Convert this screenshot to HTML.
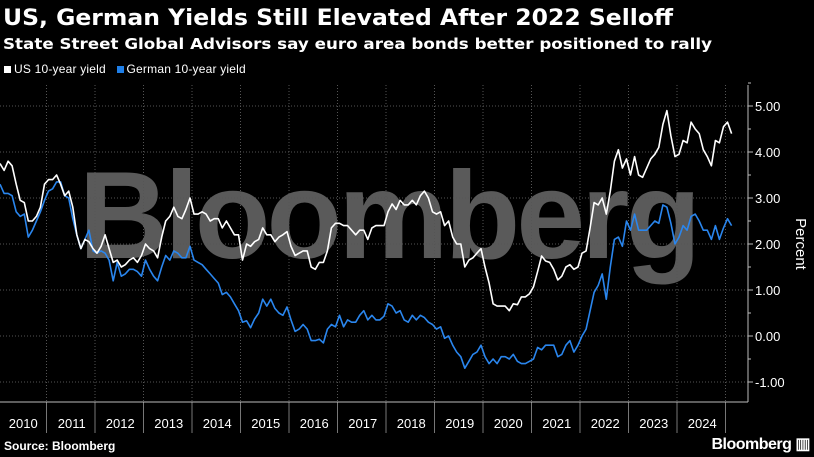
<!DOCTYPE html>
<html><head><meta charset="utf-8">
<style>
html,body{margin:0;padding:0;background:#000;width:814px;height:457px;overflow:hidden;font-family:"Liberation Sans",sans-serif;color:#fff}
#legend{position:absolute;left:4px;top:62px;font-size:12px;letter-spacing:0.2px}
.sw{display:inline-block;width:7px;height:7px;margin-right:3px}
#src{position:absolute;left:4px;top:439px;font-size:12px;font-weight:bold}
#logo{position:absolute;right:4px;top:434px;font-size:16px;font-weight:bold;letter-spacing:-0.5px}
svg{position:absolute;left:0;top:0}
</style></head><body>
<svg id="head" width="814" height="60">
<text x="3" y="25" font-size="22" font-weight="bold" fill="#fff" font-family="DejaVu Sans, sans-serif" textLength="670" lengthAdjust="spacingAndGlyphs">US, German Yields Still Elevated After 2022 Selloff</text>
<text x="3" y="49" font-size="15" font-weight="bold" fill="#fff" font-family="DejaVu Sans, sans-serif" textLength="709" lengthAdjust="spacingAndGlyphs">State Street Global Advisors say euro area bonds better positioned to rally</text>
</svg>
<div id="legend"><span><span class="sw" style="background:#fff"></span>US 10-year yield</span>&nbsp;&nbsp;&nbsp;<span><span class="sw" style="background:#1f7fe8"></span>German 10-year yield</span></div>
<svg id="chart" width="814" height="457" style="pointer-events:none"></svg>
<div id="src">Source: Bloomberg</div>
<div id="logo">Bloomberg ▥</div>
<script>
const years=["2010","2011","2012","2013","2014","2015","2016","2017","2018","2019","2020","2021","2022","2023","2024"];
const yTicks=[5,4,3,2,1,0,-1];
const usYield=[3.75,3.6,3.8,3.7,3.3,2.95,2.9,2.5,2.5,2.6,2.8,3.3,
3.4,3.4,3.5,3.3,3.05,3.15,2.8,2.2,1.9,2.1,2.05,1.9,
1.8,1.95,2.2,1.9,1.6,1.65,1.5,1.55,1.65,1.7,1.6,1.75,
2.0,1.9,1.85,1.7,2.15,2.5,2.6,2.8,2.6,2.55,2.75,3.0,
2.65,2.65,2.7,2.65,2.5,2.55,2.55,2.35,2.5,2.35,2.2,2.2,
1.65,2.0,1.95,2.05,2.1,2.35,2.2,2.2,2.05,2.15,2.2,2.27,
1.95,1.75,1.8,1.85,1.85,1.5,1.45,1.6,1.6,1.85,2.35,2.45,
2.45,2.4,2.4,2.3,2.2,2.3,2.3,2.1,2.35,2.4,2.4,2.4,
2.7,2.87,2.75,2.95,2.85,2.85,2.95,2.85,3.05,3.15,3.0,2.7,
2.65,2.7,2.4,2.5,2.15,2.0,2.0,1.5,1.65,1.7,1.8,1.9,
1.5,1.15,0.7,0.65,0.65,0.65,0.55,0.7,0.68,0.85,0.85,0.92,
1.07,1.4,1.74,1.63,1.6,1.45,1.22,1.3,1.5,1.55,1.45,1.5,
1.8,1.85,2.35,2.9,2.85,3.0,2.65,3.15,3.8,4.05,3.65,3.85,
3.5,3.9,3.5,3.45,3.65,3.85,3.95,4.1,4.6,4.9,4.35,3.9,
3.95,4.25,4.2,4.65,4.5,4.4,4.05,3.9,3.7,4.25,4.2,4.55,
4.65,4.4];
const deYield=[3.3,3.1,3.1,3.05,2.7,2.6,2.65,2.15,2.3,2.5,2.7,2.95,
3.15,3.2,3.35,3.35,3.05,3.0,2.55,2.2,1.9,2.1,2.3,1.85,
1.8,1.85,1.8,1.65,1.2,1.6,1.3,1.35,1.45,1.45,1.4,1.3,
1.65,1.45,1.3,1.2,1.5,1.75,1.65,1.85,1.8,1.7,1.7,1.95,
1.65,1.6,1.55,1.45,1.35,1.25,1.15,0.9,0.95,0.85,0.7,0.55,
0.3,0.33,0.18,0.37,0.5,0.8,0.65,0.8,0.6,0.5,0.45,0.63,
0.35,0.1,0.15,0.25,0.15,-0.1,-0.1,-0.07,-0.15,0.15,0.25,0.2,
0.45,0.2,0.35,0.3,0.3,0.45,0.55,0.35,0.45,0.35,0.35,0.43,
0.7,0.65,0.5,0.55,0.35,0.3,0.45,0.35,0.45,0.4,0.3,0.25,
0.15,0.2,-0.05,0.0,-0.2,-0.35,-0.45,-0.7,-0.55,-0.4,-0.35,-0.2,
-0.45,-0.6,-0.5,-0.6,-0.45,-0.45,-0.5,-0.4,-0.55,-0.6,-0.6,-0.55,
-0.5,-0.25,-0.3,-0.2,-0.2,-0.2,-0.45,-0.4,-0.2,-0.1,-0.35,-0.2,
0.0,0.15,0.55,0.95,1.1,1.35,0.8,1.5,2.1,2.15,1.95,2.5,
2.3,2.65,2.3,2.3,2.3,2.4,2.5,2.45,2.85,2.8,2.45,2.0,
2.15,2.4,2.3,2.6,2.65,2.5,2.3,2.3,2.1,2.4,2.1,2.35,
2.55,2.4];
const NS="http://www.w3.org/2000/svg";
const svg=document.getElementById('chart');
const X0=-2,YW=48.5,AX=748,BOT=402;
const xm=i=>X0+(i+0.5)/12*YW;
const yv=v=>336-v*46;
function mk(t,a){const e=document.createElementNS(NS,t);for(const k in a)e.setAttribute(k,a[k]);svg.appendChild(e);return e;}
let w=mk('text',{x:388,y:258,'text-anchor':'middle','font-size':124,'font-weight':'bold',fill:'#5a5a5a','font-family':'Liberation Sans, sans-serif','letter-spacing':'-4'});
w.textContent='Bloomberg';


yTicks.forEach(t=>{
 let g=mk('line',{x1:0,x2:AX,y1:yv(t),y2:yv(t),stroke:'#555','stroke-dasharray':'1,2','stroke-width':1});
 
 
 let tk=mk('line',{x1:AX,x2:AX+5,y1:yv(t),y2:yv(t),stroke:'#bbb'});
 
 
 let mt=mk('line',{x1:AX,x2:AX+3,y1:yv(t+0.5),y2:yv(t+0.5),stroke:'#bbb'});
 
 
 let l=mk('text',{x:AX+7,y:yv(t)+5,'font-size':13,fill:'#fff'});
 l.textContent=(t<0?'-':'')+Math.abs(t).toFixed(2);
 
 
});
years.forEach((y,i)=>{
 const xs=X0+(i+1)*YW;
 let g=mk('line',{x1:xs,x2:xs,y1:85,y2:BOT,stroke:'#555','stroke-dasharray':'1,2'});
 
 
 let s=mk('line',{x1:xs,x2:xs,y1:BOT,y2:433,stroke:'#777'});
 
 
 let l=mk('text',{x:X0+i*YW+YW/2+1,y:428,'font-size':13,fill:'#fff','text-anchor':'middle'});
 l.textContent=y;
 
 
});
let ax=mk('line',{x1:0,x2:AX,y1:BOT,y2:BOT,stroke:'#bbb'});


let ay=mk('line',{x1:AX,x2:AX,y1:85,y2:BOT,stroke:'#bbb'});


let yt=mk('text',{x:0,y:0,'font-size':15,fill:'#fff','text-anchor':'middle',transform:'translate(796,244) rotate(90)'});
yt.textContent='Percent';


function line(arr,col,name){
 const d=arr.map((v,i)=>(i?'L':'M')+xm(i).toFixed(1)+','+yv(v).toFixed(1)).join(' ');
 let p=mk('path',{d:d,fill:'none',stroke:col,'stroke-width':1.6,'stroke-linejoin':'round'});
 
 
}
line(deYield,'#2a86ee','german-yield-line');
line(usYield,'#ffffff','us-yield-line');
</script>
</body></html>
